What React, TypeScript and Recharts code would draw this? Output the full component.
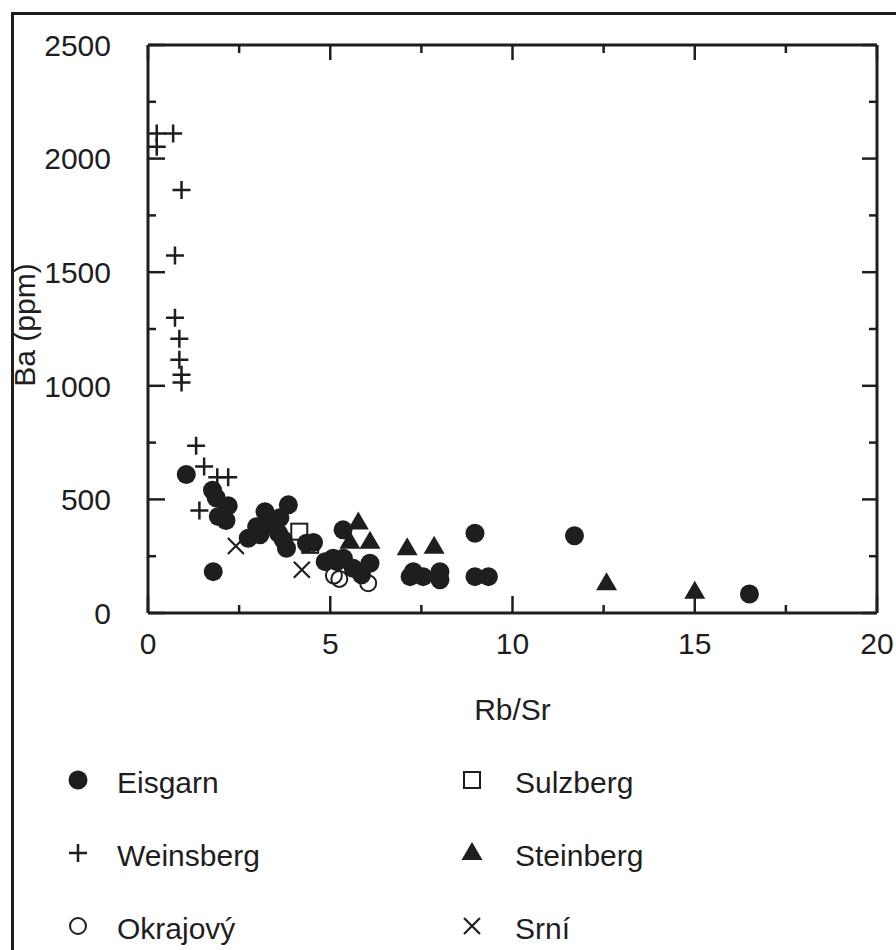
import React from 'react';
import { ScatterChart, Scatter, XAxis, YAxis } from 'recharts';

// [Rb/Sr, Ba ppm]
const eisgarn: [number, number][] = [
  [1.05, 610], [1.77, 540], [1.87, 507], [2.2, 472], [1.93, 425], [2.14, 407], [1.79, 182],
  [2.75, 329], [2.98, 380], [3.07, 344], [3.21, 446], [3.39, 388], [3.58, 351], [3.62, 419],
  [3.85, 476], [3.8, 285], [3.71, 322], [4.35, 307], [4.54, 310], [4.86, 226], [5.08, 241],
  [5.18, 226], [5.35, 366], [5.36, 241], [5.63, 197], [5.86, 168], [6.09, 219], [7.28, 182],
  [7.19, 160], [7.55, 160], [8.01, 182], [8.01, 146], [8.97, 351], [8.97, 160], [9.34, 160],
  [11.7, 340], [16.5, 84],
];
const weinsberg: [number, number][] = [
  [0.24, 2110], [0.69, 2110], [0.24, 2052], [0.92, 1862], [0.74, 1574], [0.74, 1299],
  [0.86, 1207], [0.86, 1115], [0.92, 1049], [0.92, 1015], [1.32, 736], [1.54, 645],
  [1.9, 598], [2.2, 598], [1.41, 451],
];
const okrajovy: [number, number][] = [[5.1, 165], [5.25, 150], [6.04, 131]];
const sulzberg: [number, number][] = [[4.15, 358], [4.45, 300]];
const steinberg: [number, number][] = [
  [5.77, 398], [5.54, 314], [6.09, 314], [7.11, 285], [7.85, 292], [12.58, 131], [15.0, 94],
];
const srni: [number, number][] = [[2.41, 295], [4.22, 190]];

const xTicks = [0, 2.5, 5, 7.5, 10, 12.5, 15, 17.5, 20];
const yTicks = [0, 250, 500, 750, 1000, 1250, 1500, 1750, 2000, 2250, 2500];

const INK = '#1e1e1e';
const FONT = '"Liberation Sans", Arial, sans-serif';

const toPts = (arr: [number, number][]) => arr.map(([x, y]) => ({ x, y }));

// marker shapes
const Dot = ({ cx, cy }: any) => <circle cx={cx} cy={cy} r={9.5} fill={INK} />;
const Ring = ({ cx, cy }: any) => <circle cx={cx} cy={cy} r={8} fill="none" stroke={INK} strokeWidth={2} />;
const Plus = ({ cx, cy }: any) => (
  <path d={`M${cx - 9},${cy}H${cx + 9}M${cx},${cy - 9}V${cy + 9}`} stroke={INK} strokeWidth={2.5} />
);
const Cross = ({ cx, cy }: any) => (
  <path d={`M${cx - 8},${cy - 8}L${cx + 8},${cy + 8}M${cx + 8},${cy - 8}L${cx - 8},${cy + 8}`} stroke={INK} strokeWidth={2.2} />
);
const Box = ({ cx, cy }: any) => (
  <rect x={cx - 8} y={cy - 8} width={16} height={16} fill="none" stroke={INK} strokeWidth={2} />
);
const Tri = ({ cx, cy }: any) => (
  <path d={`M${cx},${cy - 11}L${cx + 10.5},${cy + 7}L${cx - 10.5},${cy + 7}Z`} fill={INK} />
);

const isMajorX = (v: number) => v % 5 === 0;
const isMajorY = (v: number) => v % 500 === 0;

const LeftTick = ({ x, y, payload }: any) => {
  const major = isMajorY(payload.value);
  return (
    <g>
      <line x1={x} x2={x + (major ? 17 : 8)} y1={y} y2={y} stroke={INK} strokeWidth={2.5} />
      {major && (
        <text x={x - 37} y={y} dy="0.36em" textAnchor="end" fontSize={30} fontFamily={FONT} fill={INK}>
          {payload.value}
        </text>
      )}
    </g>
  );
};
const RightTick = ({ x, y, payload }: any) => {
  const major = isMajorY(payload.value);
  return <line x1={x} x2={x - (major ? 15 : 8)} y1={y} y2={y} stroke={INK} strokeWidth={2.5} />;
};
const BottomTick = ({ x, y, payload }: any) => {
  const major = isMajorX(payload.value);
  return (
    <g>
      <line x1={x} x2={x} y1={y} y2={y - (major ? 17 : 8)} stroke={INK} strokeWidth={2.5} />
      {major && (
        <text x={x} y={y + 30} dy="0.36em" textAnchor="middle" fontSize={30} fontFamily={FONT} fill={INK}>
          {payload.value}
        </text>
      )}
    </g>
  );
};
const TopTick = ({ x, y, payload }: any) => {
  const major = isMajorX(payload.value);
  return <line x1={x} x2={x} y1={y} y2={y + (major ? 15 : 8)} stroke={INK} strokeWidth={2.5} />;
};

const legendItems = [
  { name: 'Eisgarn', Shape: Dot, col: 0, row: 0 },
  { name: 'Sulzberg', Shape: Box, col: 1, row: 0 },
  { name: 'Weinsberg', Shape: Plus, col: 0, row: 1 },
  { name: 'Steinberg', Shape: Tri, col: 1, row: 1 },
  { name: 'Okrajový', Shape: Ring, col: 0, row: 2 },
  { name: 'Srní', Shape: Cross, col: 1, row: 2 },
];

export default function App() {
  return (
    <div style={{ position: 'absolute', left: 0, top: 0, width: 896, height: 950, overflow: 'hidden', background: '#fff' }}>
      <div style={{ position: 'absolute', left: 11, top: 12, width: 1000, height: 1000, border: `3px solid ${INK}` }} />
      <div style={{ position: 'absolute', left: 0, top: 0 }}>
        <ScatterChart width={896} height={950} margin={{ top: 44, right: 18, bottom: 297, left: 88 }}>
          <XAxis
            xAxisId="b"
            type="number"
            dataKey="x"
            domain={[0, 20]}
            allowDataOverflow
            ticks={xTicks}
            interval={0}
            height={40}
            tickSize={0}
            tickMargin={0}
            tickLine={false}
            tick={(p: any) => <BottomTick {...p} />}
            axisLine={{ stroke: INK, strokeWidth: 3 }}
            label={{ value: 'Rb/Sr', position: 'bottom', offset: 46, fontSize: 30, fontFamily: FONT, fill: INK }}
          />
          <XAxis
            xAxisId="t"
            orientation="top"
            type="number"
            dataKey="x"
            domain={[0, 20]}
            allowDataOverflow
            ticks={xTicks}
            interval={0}
            height={1}
            tickSize={0}
            tickMargin={0}
            tickLine={false}
            tick={(p: any) => <TopTick {...p} />}
            axisLine={{ stroke: INK, strokeWidth: 3 }}
          />
          <YAxis
            yAxisId="l"
            type="number"
            dataKey="y"
            domain={[0, 2500]}
            allowDataOverflow
            ticks={yTicks}
            interval={0}
            width={60}
            tickSize={0}
            tickMargin={0}
            tickLine={false}
            tick={(p: any) => <LeftTick {...p} />}
            axisLine={{ stroke: INK, strokeWidth: 3 }}
          />
          <YAxis
            yAxisId="r"
            orientation="right"
            type="number"
            dataKey="y"
            domain={[0, 2500]}
            allowDataOverflow
            ticks={yTicks}
            interval={0}
            width={1}
            tickSize={0}
            tickMargin={0}
            tickLine={false}
            tick={(p: any) => <RightTick {...p} />}
            axisLine={{ stroke: INK, strokeWidth: 3 }}
          />
          <Scatter name="Eisgarn" xAxisId="b" yAxisId="l" data={toPts(eisgarn)} shape={(p: any) => <Dot {...p} />} isAnimationActive={false} />
          <Scatter name="Weinsberg" xAxisId="b" yAxisId="l" data={toPts(weinsberg)} shape={(p: any) => <Plus {...p} />} isAnimationActive={false} />
          <Scatter name="Okrajový" xAxisId="b" yAxisId="l" data={toPts(okrajovy)} shape={(p: any) => <Ring {...p} />} isAnimationActive={false} />
          <Scatter name="Sulzberg" xAxisId="b" yAxisId="l" data={toPts(sulzberg)} shape={(p: any) => <Box {...p} />} isAnimationActive={false} />
          <Scatter name="Steinberg" xAxisId="b" yAxisId="l" data={toPts(steinberg)} shape={(p: any) => <Tri {...p} />} isAnimationActive={false} />
          <Scatter name="Srní" xAxisId="b" yAxisId="l" data={toPts(srni)} shape={(p: any) => <Cross {...p} />} isAnimationActive={false} />
        </ScatterChart>
      </div>
      <div
        style={{
          position: 'absolute', left: 25, top: 325, transform: 'translate(-50%, -50%) rotate(-90deg)',
          fontFamily: FONT, fontSize: 30, color: INK, whiteSpace: 'nowrap', lineHeight: 1,
        }}
      >
        Ba (ppm)
      </div>
      {legendItems.map(({ name, Shape, col, row }) => {
        const mx = col === 0 ? 78 : 472;
        const tx = col === 0 ? 117 : 515;
        const cy = 783 + row * 73;
        return (
          <React.Fragment key={name}>
            <svg style={{ position: 'absolute', left: mx - 14, top: cy - 17 }} width={28} height={28}>
              <Shape cx={14} cy={14} />
            </svg>
            <div
              style={{
                position: 'absolute', left: tx, top: cy, transform: 'translateY(-50%)',
                fontFamily: FONT, fontSize: 30, color: INK, lineHeight: 1, whiteSpace: 'nowrap',
              }}
            >
              {name}
            </div>
          </React.Fragment>
        );
      })}
    </div>
  );
}
